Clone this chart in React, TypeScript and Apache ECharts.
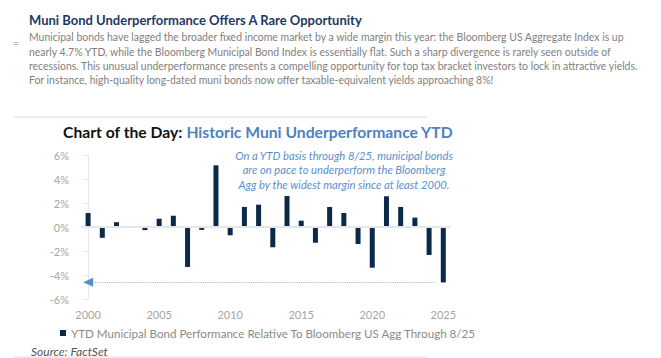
import React, { useEffect, useRef } from "react";
import * as echarts from "echarts";

const years = [
  "2000","2001","2002","2003","2004","2005","2006","2007","2008","2009",
  "2010","2011","2012","2013","2014","2015","2016","2017","2018","2019",
  "2020","2021","2022","2023","2024","2025",
];
const relPerf = [
  1.17, -0.9, 0.4, 0, -0.26, 0.69, 0.94, -3.33, -0.24, 5.14,
  -0.69, 1.67, 1.86, -1.69, 2.58, 0.53, -1.31, 1.67, 1.17, -1.42,
  -3.39, 2.56, 1.67, 0.78, -2.33, -4.62,
];
const seriesName = "YTD Municipal Bond Performance Relative To Bloomberg US Agg Through 8/25";
const markerLevel = -4.6;
const yTicks = { min: -6, max: 6, interval: 2 };

const headline = "Muni Bond Underperformance Offers A Rare Opportunity";
const bodyLines = [
  "Municipal bonds have lagged the broader fixed income market by a wide margin this year: the Bloomberg US Aggregate Index is up",
  "nearly 4.7% YTD, while the Bloomberg Municipal Bond Index is essentially flat. Such a sharp divergence is rarely seen outside of",
  "recessions. This unusual underperformance presents a compelling opportunity for top tax bracket investors to lock in attractive yields.",
  "For instance, high-quality long-dated muni bonds now offer taxable-equivalent yields approaching 8%!",
];
const chartTitleA = "Chart of the Day: ";
const chartTitleB = "Historic Muni Underperformance YTD";
const noteLines = [
  "On a YTD basis through 8/25, municipal bonds",
  "are on pace to underperform the Bloomberg",
  "Agg by the widest margin since at least 2000.",
];
const sourceText = "Source: FactSet";

const FONT = "Lato, 'Noto Sans', sans-serif";

export default function App() {
  const ref = useRef<HTMLDivElement>(null);
  useEffect(() => {
    if (!ref.current) return;
    const chart = echarts.init(ref.current, undefined, { renderer: "svg" });
    chart.setOption({
      animation: false,
      backgroundColor: "#ffffff",
      textStyle: { fontFamily: FONT },
      graphic: [
        {
          type: "text",
          x: 29,
          y: 19.5,
          style: {
            text: headline,
            fontSize: 13,
            fontWeight: "bold",
            fill: "#1f3864",
            fontFamily: FONT,
            textVerticalAlign: "middle",
          },
        },
        {
          type: "text",
          x: 13,
          y: 43,
          style: { text: "=", fontSize: 10, fill: "#888", fontFamily: FONT, textVerticalAlign: "middle" },
        },
        ...bodyLines.map((t, i) => ({
          type: "text",
          x: 29,
          y: 37.3 + i * 14.3,
          style: {
            text: t,
            fontSize: 10.45,
            fill: "#7f7f7f",
            fontFamily: FONT,
            textVerticalAlign: "middle",
          },
        })),
        {
          type: "rect",
          shape: { x: 14, y: 116, width: 413, height: 2 },
          style: { fill: "#ececec" },
        },
        {
          type: "rect",
          shape: { x: 14, y: 356, width: 413, height: 2 },
          style: { fill: "#ececec" },
        },
        {
          type: "text",
          x: 63,
          y: 131.5,
          style: {
            text: `{a|${chartTitleA}}{b|${chartTitleB}}`,
            textVerticalAlign: "middle",
            rich: {
              a: { fontSize: 15.7, fontWeight: "bold", fill: "#111111", fontFamily: FONT },
              b: { fontSize: 15.7, fontWeight: "bold", fill: "#4f81bd", fontFamily: FONT },
            },
          },
        },
        {
          type: "text",
          x: 344,
          y: 148,
          style: {
            text: noteLines.join("\n"),
            textAlign: "center",
            textVerticalAlign: "top",
            fontSize: 11.2,
            fontStyle: "italic",
            lineHeight: 14.5,
            fill: "#5b8fcb",
            fontFamily: FONT,
          },
        },
        {
          type: "text",
          x: 31,
          y: 351,
          style: {
            text: sourceText,
            fontSize: 12,
            fontStyle: "italic",
            fill: "#555555",
            fontFamily: FONT,
            textVerticalAlign: "middle",
          },
        },
      ],
      legend: {
        left: 55,
        top: 322,
        icon: "rect",
        itemWidth: 6,
        itemHeight: 6,
        itemGap: 5,
        textStyle: { color: "#8a8a8a", fontSize: 11.6, fontFamily: FONT },
        data: [seriesName],
      },
      grid: { left: 81, right: 210.6, top: 155, bottom: 59 },
      xAxis: [
        {
          type: "category",
          data: years,
          axisLine: { show: false },
          axisTick: { show: false },
          axisLabel: { interval: 4, color: "#a6a6a6", fontSize: 11, margin: 10, fontFamily: FONT },
        },
        { type: "value", min: -0.5, max: 25.5, show: false },
      ],
      yAxis: {
        type: "value",
        min: yTicks.min,
        max: yTicks.max,
        interval: yTicks.interval,
        axisLine: { show: true, lineStyle: { color: "#e8e8e8", width: 1 } },
        axisTick: { show: true, length: 4, lineStyle: { color: "#e8e8e8" } },
        splitLine: { show: false },
        axisLabel: { formatter: "{value}%", color: "#a6a6a6", fontSize: 11, margin: 12, fontFamily: FONT },
      },
      series: [
        {
          name: seriesName,
          type: "bar",
          data: relPerf,
          barWidth: 5,
          itemStyle: { color: "#0b2a4a" },
          z: 3,
        },
        {
          type: "line",
          xAxisIndex: 1,
          yAxisIndex: 0,
          data: [],
          silent: true,
          z: 2,
          markLine: {
            silent: true,
            symbol: ["none", "none"],
            label: { show: false },
            data: [
              [
                { coord: [-0.5, 0], lineStyle: { color: "#e6e6e6", width: 2, type: "solid" } },
                { coord: [25.5, 0] },
              ],
              [
                { coord: [0.3, markerLevel], lineStyle: { color: "#9dbbe0", width: 1.2, type: "dotted" } },
                { coord: [24.5, markerLevel] },
              ],
            ],
          },
          markPoint: {
            silent: true,
            symbol: "triangle",
            symbolRotate: 90,
            symbolSize: [9, 10],
            itemStyle: { color: "#5b8ac6" },
            label: { show: false },
            data: [{ coord: [0, markerLevel] }],
          },
        },
      ],
    });
    return () => chart.dispose();
  }, []);
  return (
    <div
      ref={ref}
      style={{ position: "absolute", left: 0, top: 0, width: 661, height: 358 }}
    />
  );
}
